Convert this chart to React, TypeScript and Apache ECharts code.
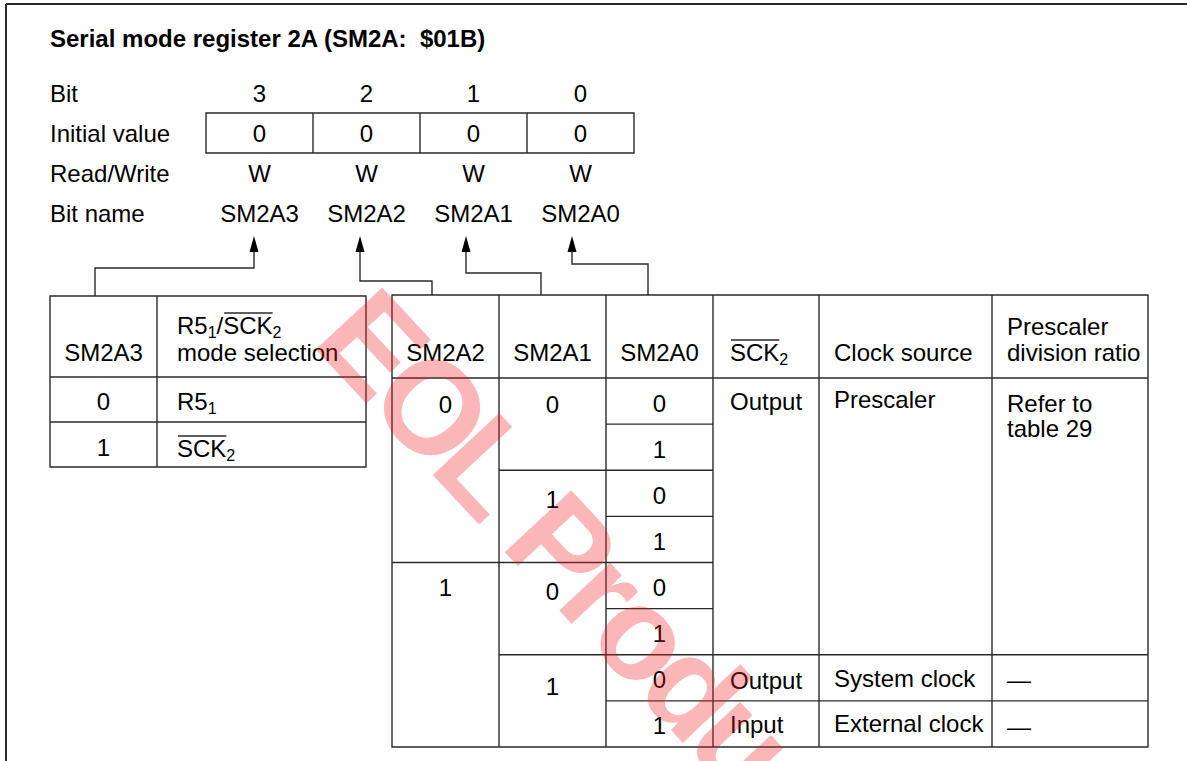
import React, { useEffect, useRef } from 'react';
import * as echarts from 'echarts';

// ---------- content ----------
const TITLE = 'Serial mode register 2A (SM2A:  $01B)';
const rowLabels = ['Bit', 'Initial value', 'Read/Write', 'Bit name'];
const bitNumbers = ['3', '2', '1', '0'];
const initialValues = ['0', '0', '0', '0'];
const readWrite = ['W', 'W', 'W', 'W'];
const bitNames = ['SM2A3', 'SM2A2', 'SM2A1', 'SM2A0'];

type Seg = { t: string; sub?: boolean; over?: boolean };
const leftHeader1: Seg[] = [{ t: 'SM2A3' }];
const leftHeader2a: Seg[] = [{ t: 'R5' }, { t: '1', sub: true }, { t: '/' }, { t: 'SCK', over: true }, { t: '2', sub: true }];
const leftHeader2b: Seg[] = [{ t: 'mode selection' }];
const sm2a3Values = ['0', '1'];
const modeSelection: Seg[][] = [
  [{ t: 'R5' }, { t: '1', sub: true }],
  [{ t: 'SCK', over: true }, { t: '2', sub: true }],
];

const rightHeaders: Seg[][][] = [
  [[{ t: 'SM2A2' }]],
  [[{ t: 'SM2A1' }]],
  [[{ t: 'SM2A0' }]],
  [[{ t: 'SCK', over: true }, { t: '2', sub: true }]],
  [[{ t: 'Clock source' }]],
  [[{ t: 'Prescaler' }], [{ t: 'division ratio' }]],
];
const sm2a2Values = ['0', '1'];
const sm2a2Spans = [4, 4];
const sm2a1Values = ['0', '1', '0', '1'];
const sm2a1Spans = [2, 2, 2, 2];
const sm2a0Values = ['0', '1', '0', '1', '0', '1', '0', '1'];
const sm2a0Spans = [1, 1, 1, 1, 1, 1, 1, 1];
const sck2Values = ['Output', 'Output', 'Input'];
const clockSources = ['Prescaler', 'System clock', 'External clock'];
const divisionRatios = ['Refer to\ntable 29', '\u2014', '\u2014'];
const lowerSpans = [6, 1, 1];
const WATERMARK = 'EOL Products';

// ---------- layout ----------
const FONT = '"Liberation Sans", Arial, Helvetica, sans-serif';
const FS = 24;
const SUB_FS = 16;
const LINE = '#2a2a2a';
const LW = 1.4;
const W = 1187;
const H = 761;
const LAY = {
  title: { x: 50, y: 38 },
  labelX: 50,
  rowY: [93, 133, 173, 213],
  reg: { x: 206, y: 113, w: 107, h: 40 },
  arrowX: [254, 360, 466, 572],
  arrowTip: 236,
  arrowBase: 252,
  elbowY: [268, 281, 273, 264],
  targetX: [95, 432, 541, 648],
  targetY: [296, 295, 295, 295],
  left: { xs: [50, 157, 366], ys: [296, 377, 422, 467], textX: 177, headY1: 325, headY2: 352, rowTextY: [401, 447] },
  right: { xs: [392, 499, 606, 713, 819, 992, 1148], top: 295, head: 378, bottom: 747, rows: 8 },
  rightHeadY: [352, 352, 352, 352, 352, 326],
  headLineGap: 26,
  rightLeftX: [730, 834, 1007],
  cellLineGap: 25,
  offsets: {
    c0: [3, 2],
    c1: [3, 6, 6, 9],
    c2: [2, 2, 2, 2, 2, 2, 2, 2],
    c3: [0, 3, 1],
    c4: [-2, 1, 0],
    c5: [2, 2, 3],
  },
  watermark: { x: 343, y: 312, rotation: -0.82, size: 132, tracking: 0.9 },
};

const canvas = typeof document !== 'undefined' ? document.createElement('canvas') : null;
const ctx = canvas ? canvas.getContext('2d') : null;
function measure(t: string, size: number, bold = false) {
  if (!ctx) return t.length * size * 0.55;
  ctx.font = `${bold ? 'bold ' : ''}${size}px ${FONT}`;
  return ctx.measureText(t).width;
}

function txt(x: number, y: number, text: string, align = 'left', size = FS, bold = false, extra: any = {}) {
  return {
    type: 'text',
    x,
    y,
    silent: true,
    style: {
      text,
      x: 0,
      y: 0,
      font: `${bold ? 'bold ' : ''}${size}px ${FONT}`,
      fill: '#000',
      align,
      verticalAlign: 'middle',
      textAlign: align,
      textVerticalAlign: 'middle',
      ...extra,
    },
  };
}

function line(x1: number, y1: number, x2: number, y2: number, w = LW) {
  return { type: 'line', silent: true, shape: { x1, y1, x2, y2 }, style: { stroke: LINE, lineWidth: w } };
}

function segWidth(segs: Seg[]) {
  return segs.reduce((s, g) => s + measure(g.t, g.sub ? SUB_FS : FS), 0);
}

function segText(x: number, y: number, segs: Seg[], align: 'left' | 'center' = 'left') {
  const out: any[] = [];
  let cx = align === 'center' ? x - segWidth(segs) / 2 : x;
  for (const g of segs) {
    const size = g.sub ? SUB_FS : FS;
    const w = measure(g.t, size);
    out.push(txt(cx, g.sub ? y + 7 : y, g.t, 'left', size));
    if (g.over) out.push(line(cx + 1, y - 12, cx + w, y - 12, 1.3));
    cx += w;
  }
  return out;
}

function buildElements() {
  const els: any[] = [];
  // frame
  els.push(line(6, 4, W, 4, 2));
  els.push(line(6, 4, 6, H, 2));
  // title
  els.push(txt(LAY.title.x, LAY.title.y, TITLE, 'left', FS, true));
  // row labels
  rowLabels.forEach((l, i) => els.push(txt(LAY.labelX, LAY.rowY[i], l)));
  // register box
  const r = LAY.reg;
  els.push({ type: 'rect', silent: true, shape: { x: r.x, y: r.y, width: r.w * 4, height: r.h }, style: { fill: 'none', stroke: LINE, lineWidth: LW } });
  for (let i = 1; i < 4; i++) els.push(line(r.x + r.w * i, r.y, r.x + r.w * i, r.y + r.h));
  const colC = (i: number) => r.x + r.w * i + r.w / 2;
  bitNumbers.forEach((b, i) => els.push(txt(colC(i), LAY.rowY[0], b, 'center')));
  initialValues.forEach((b, i) => els.push(txt(colC(i), LAY.rowY[1], b, 'center')));
  readWrite.forEach((b, i) => els.push(txt(colC(i), LAY.rowY[2], b, 'center')));
  bitNames.forEach((b, i) => els.push(txt(colC(i), LAY.rowY[3], b, 'center')));
  // arrows / connectors
  LAY.arrowX.forEach((ax, i) => {
    els.push({
      type: 'polygon',
      silent: true,
      shape: { points: [[ax, LAY.arrowTip], [ax - 4.5, LAY.arrowBase], [ax + 4.5, LAY.arrowBase]] },
      style: { fill: '#000' },
    });
    els.push({
      type: 'polyline',
      silent: true,
      shape: { points: [[ax, LAY.arrowBase], [ax, LAY.elbowY[i]], [LAY.targetX[i], LAY.elbowY[i]], [LAY.targetX[i], LAY.targetY[i]]] },
      style: { stroke: LINE, lineWidth: LW, fill: 'none' },
    });
  });
  // left table
  const lt = LAY.left;
  els.push({ type: 'rect', silent: true, shape: { x: lt.xs[0], y: lt.ys[0], width: lt.xs[2] - lt.xs[0], height: lt.ys[3] - lt.ys[0] }, style: { fill: 'none', stroke: LINE, lineWidth: LW } });
  els.push(line(lt.xs[1], lt.ys[0], lt.xs[1], lt.ys[3]));
  els.push(line(lt.xs[0], lt.ys[1], lt.xs[2], lt.ys[1]));
  els.push(line(lt.xs[0], lt.ys[2], lt.xs[2], lt.ys[2]));
  const lc0 = (lt.xs[0] + lt.xs[1]) / 2;
  els.push(...segText(lc0, lt.headY2, leftHeader1, 'center'));
  els.push(...segText(lt.textX, lt.headY1, leftHeader2a));
  els.push(...segText(lt.textX, lt.headY2, leftHeader2b));
  sm2a3Values.forEach((v, i) => els.push(txt(lc0, lt.rowTextY[i], v, 'center')));
  modeSelection.forEach((s, i) => els.push(...segText(lt.textX, lt.rowTextY[i] + (i === 1 ? 1 : 0), s)));

  // right table
  const rt = LAY.right;
  const rh = (rt.bottom - rt.head) / rt.rows;
  const rowTop = (k: number) => rt.head + rh * k;
  els.push({ type: 'rect', silent: true, shape: { x: rt.xs[0], y: rt.top, width: rt.xs[6] - rt.xs[0], height: rt.bottom - rt.top }, style: { fill: 'none', stroke: LINE, lineWidth: LW } });
  for (let c = 1; c < 6; c++) els.push(line(rt.xs[c], rt.top, rt.xs[c], rt.bottom));
  els.push(line(rt.xs[0], rt.head, rt.xs[6], rt.head));
  // headers
  rightHeaders.forEach((lines, c) => {
    lines.forEach((segs, li) => {
      const y = LAY.rightHeadY[c] + li * LAY.headLineGap;
      if (c < 3) els.push(...segText((rt.xs[c] + rt.xs[c + 1]) / 2, y, segs, 'center'));
      else els.push(...segText(LAY.rightLeftX[c - 3], y, segs));
    });
  });
  // grouped columns
  const colsData: { vals: string[]; spans: number[]; x0: number; x1: number; off: number[]; center: boolean; tx?: number }[] = [
    { vals: sm2a2Values, spans: sm2a2Spans, x0: rt.xs[0], x1: rt.xs[1], off: LAY.offsets.c0, center: true },
    { vals: sm2a1Values, spans: sm2a1Spans, x0: rt.xs[1], x1: rt.xs[2], off: LAY.offsets.c1, center: true },
    { vals: sm2a0Values, spans: sm2a0Spans, x0: rt.xs[2], x1: rt.xs[3], off: LAY.offsets.c2, center: true },
    { vals: sck2Values, spans: lowerSpans, x0: rt.xs[3], x1: rt.xs[4], off: LAY.offsets.c3, center: false, tx: LAY.rightLeftX[0] },
    { vals: clockSources, spans: lowerSpans, x0: rt.xs[4], x1: rt.xs[5], off: LAY.offsets.c4, center: false, tx: LAY.rightLeftX[1] },
    { vals: divisionRatios, spans: lowerSpans, x0: rt.xs[5], x1: rt.xs[6], off: LAY.offsets.c5, center: false, tx: LAY.rightLeftX[2] },
  ];
  colsData.forEach((cd) => {
    let k = 0;
    cd.vals.forEach((v, i) => {
      const yc = rowTop(k) + rh / 2 + cd.off[i];
      if (v.includes('\n')) {
        v.split('\n').forEach((p, pi) => els.push(txt(cd.tx as number, yc + pi * LAY.cellLineGap, p)));
      } else if (cd.center) {
        els.push(txt((cd.x0 + cd.x1) / 2, yc, v, 'center'));
      } else {
        els.push(txt(cd.tx as number, yc, v));
      }
      k += cd.spans[i];
      if (k < rt.rows) els.push(line(cd.x0, rowTop(k), cd.x1, rowTop(k)));
    });
  });

  // watermark: letters laid along a rotated baseline (letters wholly off the page are skipped)
  const wm = LAY.watermark;
  const ux = Math.cos(-wm.rotation);
  const uy = Math.sin(-wm.rotation);
  let along = 0;
  const children: any[] = [];
  for (const ch of WATERMARK.split('')) {
    const w = measure(ch, wm.size, true) * wm.tracking;
    const ax = wm.x + ux * along;
    const ay = wm.y + uy * along;
    if (ch !== ' ' && ax < W && ay < H) {
      children.push({
        type: 'text',
        x: ax,
        y: ay,
        rotation: wm.rotation,
        silent: true,
        z: 100,
        style: {
          text: ch,
          x: 0,
          y: 0,
          font: `bold ${wm.size}px ${FONT}`,
          fill: 'rgba(242, 30, 30, 0.32)',
          align: 'left',
          verticalAlign: 'middle',
          textAlign: 'left',
          textVerticalAlign: 'middle',
        },
      });
    }
    along += w;
  }
  els.push({ type: 'group', silent: true, z: 100, children });
  return els;
}

export default function App() {
  const ref = useRef<HTMLDivElement>(null);
  useEffect(() => {
    if (!ref.current) return;
    const chart = echarts.init(ref.current, undefined, { renderer: 'svg' });
    chart.setOption({
      animation: false,
      backgroundColor: '#fff',
      graphic: { elements: buildElements() },
    });
    return () => chart.dispose();
  }, []);
  return <div ref={ref} style={{ position: 'fixed', left: 0, top: 0, width: W, height: H, background: '#fff' }} />;
}
